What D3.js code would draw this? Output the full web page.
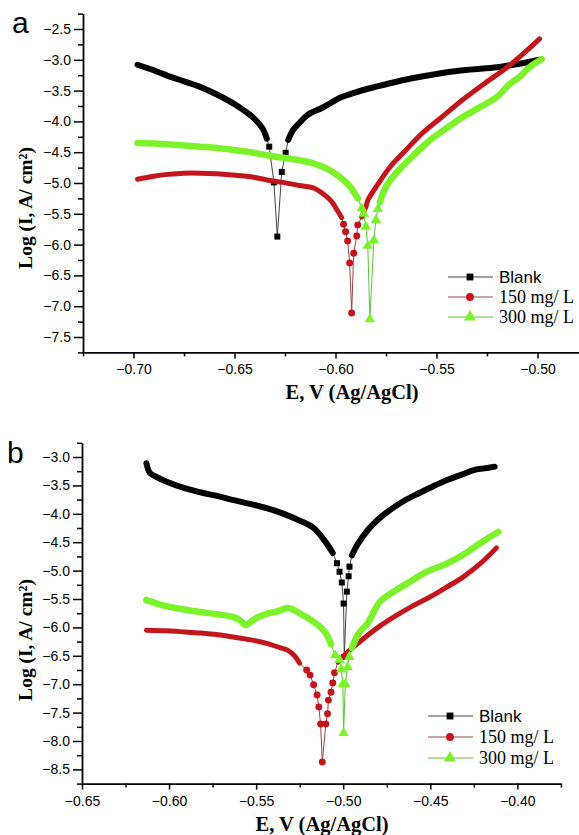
<!DOCTYPE html>
<html>
<head>
<meta charset="utf-8">
<script src="https://cdn.jsdelivr.net/npm/d3@7"></script>
<style>
  html, body { margin: 0; padding: 0; background: #fff; }
  svg { display: block; }
</style>
</head>
<body>
<svg id="chart" width="579" height="835"></svg>
<script>
// ---- Series labels ----
const seriesNames = ["Blank", "150 mg/ L", "300 mg/ L"];

// ---- Tick values ----
const aXMajor = [-0.70, -0.65, -0.60, -0.55, -0.50];
const aYMajor = [-2.5, -3.0, -3.5, -4.0, -4.5, -5.0, -5.5, -6.0, -6.5, -7.0, -7.5];
const bXMajor = [-0.65, -0.60, -0.55, -0.50, -0.45, -0.40];
const bYMajor = [-3.0, -3.5, -4.0, -4.5, -5.0, -5.5, -6.0, -6.5, -7.0, -7.5, -8.0, -8.5];

// ---- Panel a: [E (V), log I] ----
// Blank
const aBlankCath = [[-0.698,-3.08],[-0.690,-3.17],[-0.683,-3.26],[-0.675,-3.35],[-0.667,-3.44],[-0.659,-3.56],[-0.651,-3.70],[-0.645,-3.83],[-0.641,-3.93],[-0.636,-4.12],[-0.634,-4.28]];
const aBlankDip  = [[-0.6328,-4.41],[-0.6305,-4.99],[-0.6288,-5.87],[-0.6266,-4.82],[-0.6247,-4.51]];
const aBlankAnod = [[-0.6234,-4.30],[-0.621,-4.14],[-0.618,-4.03],[-0.614,-3.90],[-0.606,-3.77],[-0.598,-3.62],[-0.590,-3.53],[-0.584,-3.47],[-0.573,-3.38],[-0.562,-3.30],[-0.550,-3.23],[-0.537,-3.17],[-0.520,-3.12],[-0.512,-3.08],[-0.505,-3.04],[-0.499,-3.00]];
// 150 mg/L
const aLowCath = [[-0.698,-4.94],[-0.690,-4.89],[-0.683,-4.86],[-0.675,-4.84],[-0.667,-4.84],[-0.659,-4.85],[-0.651,-4.87],[-0.642,-4.90],[-0.634,-4.95],[-0.626,-4.99],[-0.618,-5.04],[-0.611,-5.08],[-0.606,-5.18],[-0.602,-5.30],[-0.599,-5.45],[-0.597,-5.56]];
const aLowDip  = [[-0.596,-5.67],[-0.595,-5.79],[-0.594,-5.94],[-0.593,-6.30],[-0.592,-7.11],[-0.591,-6.14],[-0.5895,-5.86],[-0.589,-5.68]];
const aLowAnod = [[-0.587,-5.55],[-0.585,-5.39],[-0.584,-5.28],[-0.579,-5.02],[-0.573,-4.74],[-0.565,-4.46],[-0.557,-4.19],[-0.547,-3.92],[-0.537,-3.65],[-0.526,-3.38],[-0.515,-3.12],[-0.507,-2.90],[-0.499,-2.66]];
// 300 mg/L
const aHighCath = [[-0.698,-4.35],[-0.690,-4.36],[-0.683,-4.37],[-0.675,-4.39],[-0.667,-4.41],[-0.659,-4.43],[-0.651,-4.46],[-0.642,-4.50],[-0.634,-4.55],[-0.626,-4.59],[-0.618,-4.63],[-0.611,-4.68],[-0.604,-4.77],[-0.598,-4.90],[-0.593,-5.05],[-0.589,-5.25]];
const aHighDip  = [[-0.587,-5.41],[-0.586,-5.50],[-0.585,-5.71],[-0.584,-6.02],[-0.583,-7.21],[-0.581,-5.93],[-0.580,-5.60],[-0.579,-5.42]];
const aHighAnod = [[-0.578,-5.31],[-0.575,-5.06],[-0.570,-4.84],[-0.562,-4.57],[-0.553,-4.30],[-0.545,-4.11],[-0.537,-3.93],[-0.528,-3.76],[-0.520,-3.60],[-0.514,-3.40],[-0.509,-3.28],[-0.504,-3.12],[-0.498,-2.99]];

// ---- Panel b: [E (V), log I] ----
// Blank
const bBlankCath = [[-0.613,-3.11],[-0.611,-3.28],[-0.606,-3.37],[-0.601,-3.44],[-0.592,-3.54],[-0.582,-3.62],[-0.572,-3.69],[-0.563,-3.76],[-0.553,-3.83],[-0.544,-3.90],[-0.536,-3.98],[-0.525,-4.12],[-0.517,-4.25],[-0.511,-4.46],[-0.506,-4.69]];
const bBlankDip  = [[-0.5036,-4.87],[-0.5021,-5.02],[-0.5008,-5.21],[-0.4998,-5.58],[-0.4994,-6.52],[-0.4979,-5.37],[-0.4969,-5.10],[-0.4964,-4.93]];
const bBlankAnod = [[-0.495,-4.73],[-0.492,-4.55],[-0.486,-4.29],[-0.480,-4.10],[-0.473,-3.93],[-0.465,-3.77],[-0.456,-3.63],[-0.448,-3.51],[-0.440,-3.40],[-0.432,-3.31],[-0.425,-3.23],[-0.419,-3.20],[-0.413,-3.17]];
// 150 mg/L
const bLowCath = [[-0.613,-6.05],[-0.601,-6.06],[-0.591,-6.08],[-0.582,-6.10],[-0.572,-6.13],[-0.563,-6.17],[-0.553,-6.22],[-0.544,-6.28],[-0.536,-6.36],[-0.532,-6.40],[-0.528,-6.50],[-0.525,-6.63]];
const bLowDip  = [[-0.521,-6.75],[-0.519,-6.84],[-0.517,-7.01],[-0.515,-7.19],[-0.514,-7.40],[-0.513,-7.70],[-0.512,-8.37],[-0.510,-7.70],[-0.509,-7.52],[-0.5085,-7.28],[-0.507,-7.14],[-0.506,-6.98],[-0.505,-6.80]];
const bLowAnod = [[-0.503,-6.61],[-0.498,-6.45],[-0.490,-6.24],[-0.480,-6.00],[-0.469,-5.78],[-0.460,-5.62],[-0.450,-5.46],[-0.440,-5.28],[-0.431,-5.11],[-0.421,-4.87],[-0.412,-4.60]];
// 300 mg/L
const bHighCath = [[-0.613,-5.52],[-0.607,-5.58],[-0.601,-5.63],[-0.592,-5.68],[-0.582,-5.73],[-0.572,-5.77],[-0.563,-5.82],[-0.559,-5.88],[-0.556,-5.96],[-0.553,-5.90],[-0.549,-5.82],[-0.544,-5.76],[-0.538,-5.72],[-0.532,-5.66],[-0.528,-5.70],[-0.524,-5.77],[-0.519,-5.86],[-0.514,-5.97],[-0.510,-6.10],[-0.507,-6.30]];
const bHighDip  = [[-0.5046,-6.49],[-0.5021,-6.57],[-0.5011,-6.74],[-0.5002,-7.00],[-0.4998,-7.86],[-0.4988,-7.00],[-0.4975,-6.70],[-0.4965,-6.52]];
const bHighAnod = [[-0.495,-6.36],[-0.491,-6.10],[-0.486,-5.93],[-0.479,-5.55],[-0.470,-5.35],[-0.463,-5.22],[-0.452,-5.02],[-0.440,-4.87],[-0.430,-4.70],[-0.421,-4.51],[-0.411,-4.32]];

// ---- Styles ----
const SANS = "'Liberation Sans', Arial, sans-serif";
const SERIF = "'Liberation Serif', 'Times New Roman', serif";
const COLORS = ["#000000", "#c3161c", "#7cf22a"];
const THIN = ["#444444", "#9a4646", "#5cc43a"];
const WIDTHS = [6, 5, 6.5];
const SYMBOLS = [d3.symbolSquare, d3.symbolCircle, d3.symbolTriangle];
const SYM_SIZE = [36, 38, 48];

const svg = d3.select("#chart");

function drawPanel(p) {
  const g = svg.append("g");
  const x = d3.scaleLinear().domain(p.xDomain).range(p.xRange);
  const y = d3.scaleLinear().domain(p.yDomain).range(p.yRange);

  // minor ticks halfway between the labelled ones
  const xMinor = d3.range(p.xDomain[0], p.xDomain[1] + 1e-9, 0.025).filter(v => !p.xMajor.some(m => Math.abs(m - v) < 1e-6));
  const yMinor = d3.range(p.yDomain[0], p.yDomain[1] - 1e-9, -0.5).filter(v => !p.yMajor.some(m => Math.abs(m - v) < 1e-6));

  g.append("g").attr("transform", `translate(${p.xRange[0]},0)`)
    .call(d3.axisLeft(y).tickValues(p.yMajor).tickFormat(d3.format(".1f")).tickSize(9).tickSizeOuter(0).tickPadding(3));
  g.append("g").attr("transform", `translate(${p.xRange[0]},0)`)
    .call(d3.axisLeft(y).tickValues(yMinor).tickFormat("").tickSize(5).tickSizeOuter(0))
    .select(".domain").remove();
  g.append("g").attr("transform", `translate(0,${p.yRange[1]})`)
    .call(d3.axisBottom(x).tickValues(p.xMajor).tickFormat(d3.format(".2f")).tickSize(6).tickSizeOuter(0).tickPadding(6));
  g.append("g").attr("transform", `translate(0,${p.yRange[1]})`)
    .call(d3.axisBottom(x).tickValues(xMinor).tickFormat("").tickSize(4).tickSizeOuter(0))
    .select(".domain").remove();

  g.selectAll(".domain").attr("stroke", "#000").attr("stroke-width", 1.8);
  g.selectAll(".tick line").attr("stroke", "#000").attr("stroke-width", 1.5);
  g.selectAll(".tick text").attr("font-family", SANS).attr("font-size", 14).attr("fill", "#000");

  // curves: thin connector over the whole scan, thick dense branches, markers near Ecorr
  const thinLine = d3.line().x(d => x(d[0])).y(d => y(d[1]));
  const thickLine = d3.line().curve(d3.curveCatmullRom.alpha(0.5)).x(d => x(d[0])).y(d => y(d[1]));
  p.series.forEach((s, i) => {
    const sg = g.append("g");
    sg.append("path").attr("d", thinLine(s.cath.concat(s.dip, s.anod)))
      .attr("fill", "none").attr("stroke", THIN[i]).attr("stroke-width", 1);
    [s.cath, s.anod].forEach(seg => {
      sg.append("path").attr("d", thickLine(seg))
        .attr("fill", "none").attr("stroke", COLORS[i]).attr("stroke-width", WIDTHS[i])
        .attr("stroke-linecap", "round").attr("stroke-linejoin", "round");
    });
    sg.selectAll("path.mk").data(s.dip).join("path").attr("class", "mk")
      .attr("d", d3.symbol(SYMBOLS[i], SYM_SIZE[i])())
      .attr("transform", d => `translate(${x(d[0])},${y(d[1])})`)
      .attr("fill", COLORS[i]);
  });

  // legend
  const lg = g.append("g");
  seriesNames.forEach((name, i) => {
    const ly = p.legend.y + i * p.legend.dy;
    lg.append("line").attr("x1", p.legend.x).attr("x2", p.legend.x + 45).attr("y1", ly).attr("y2", ly)
      .attr("stroke", THIN[i]).attr("stroke-width", 1.2);
    lg.append("path").attr("d", d3.symbol(SYMBOLS[i], SYM_SIZE[i] * 1.3)())
      .attr("transform", `translate(${p.legend.x + 22},${ly})`).attr("fill", COLORS[i]);
    lg.append("text").attr("x", p.legend.x + 51).attr("y", ly + 6)
      .attr("font-family", i === 0 ? SANS : SERIF).attr("font-size", i === 0 ? 17 : 18)
      .attr("fill", "#000").text(name);
  });

  // axis titles and panel letter
  g.append("text").attr("x", p.xTitle[0]).attr("y", p.xTitle[1]).attr("text-anchor", "middle")
    .attr("font-family", SERIF).attr("font-weight", "bold").attr("font-size", p.xTitle[2]).text("E, V (Ag/AgCl)");
  g.append("text").attr("transform", `translate(${p.yTitle[0]},${p.yTitle[1]}) rotate(-90)`).attr("text-anchor", "middle")
    .attr("font-family", SERIF).attr("font-weight", "bold").attr("font-size", 19.5).text("Log (I, A/ cm²)");
  g.append("text").attr("x", p.letter[0]).attr("y", p.letter[1])
    .attr("font-family", SANS).attr("font-size", 30).text(p.letter[2]);
}

drawPanel({
  xDomain: [-0.725, -0.475], xRange: [83, 588],
  yDomain: [-2.25, -7.75], yRange: [13.6, 352.4],
  xMajor: aXMajor, yMajor: aYMajor,
  series: [
    { cath: aBlankCath, dip: aBlankDip, anod: aBlankAnod },
    { cath: aLowCath, dip: aLowDip, anod: aLowAnod },
    { cath: aHighCath, dip: aHighDip, anod: aHighAnod }
  ],
  legend: { x: 448, y: 277, dy: 20 },
  xTitle: [352, 399, 20.5], yTitle: [32, 208], letter: [12, 33, "a"]
});

drawPanel({
  xDomain: [-0.65, -0.375], xRange: [82, 560.9],
  yDomain: [-2.75, -8.75], yRange: [442.8, 783.6],
  xMajor: bXMajor, yMajor: bYMajor,
  series: [
    { cath: bBlankCath, dip: bBlankDip, anod: bBlankAnod },
    { cath: bLowCath, dip: bLowDip, anod: bLowAnod },
    { cath: bHighCath, dip: bHighDip, anod: bHighAnod }
  ],
  legend: { x: 428, y: 716, dy: 21 },
  xTitle: [322, 831, 20.5], yTitle: [32, 640], letter: [7, 463, "b"]
});
</script>
</body>
</html>
